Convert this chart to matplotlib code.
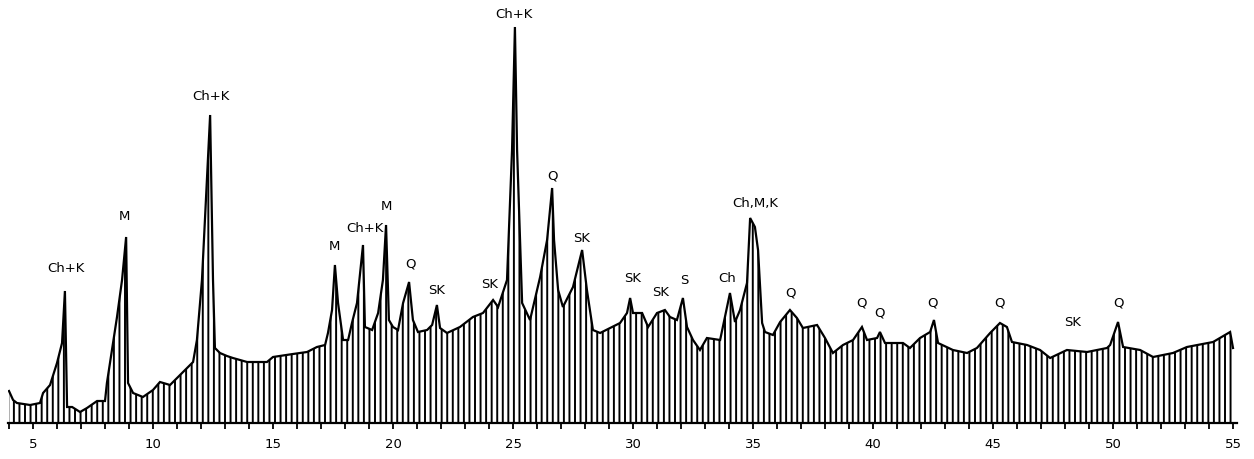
import matplotlib
matplotlib.use("Agg")
import matplotlib.pyplot as plt
from matplotlib.ticker import MultipleLocator
import numpy as np

plt.rcParams['font.family'] = ['DejaVu Sans']
plt.rcParams['hatch.linewidth'] = 1.4

# 2-theta (degrees) and intensity (arbitrary units)
two_theta = [4.00, 4.17, 4.33, 4.88, 5.29, 5.42, 5.71, 6.00, 6.21, 6.33, 6.42, 6.63, 6.96,
             7.25, 7.67, 8.00, 8.08, 8.50, 8.71, 8.88, 8.96, 9.17, 9.58, 10.00, 10.29,
             10.71, 11.13, 11.67, 11.83, 12.04, 12.38, 12.50, 12.58, 12.79, 13.08, 13.33,
             13.92, 14.75, 15.00, 15.83, 16.42, 16.83, 17.17, 17.29, 17.46, 17.58, 17.71,
             17.92, 18.13, 18.29, 18.50, 18.75, 18.83, 19.13, 19.38, 19.58, 19.71, 19.83,
             20.00, 20.21, 20.42, 20.67, 20.83, 21.04, 21.42, 21.63, 21.83, 21.96, 22.25,
             22.79, 23.33, 23.75, 24.17, 24.38, 24.75, 24.96, 25.08, 25.17, 25.38, 25.71,
             26.13, 26.42, 26.63, 26.71, 26.88, 27.08, 27.50, 27.88, 28.08, 28.33, 28.63,
             29.46, 29.75, 29.88, 30.00, 30.38, 30.63, 31.00, 31.33, 31.54, 31.83, 32.08,
             32.25, 32.50, 32.79, 33.08, 33.63, 33.83, 34.04, 34.25, 34.46, 34.75, 34.88,
             35.08, 35.21, 35.38, 35.50, 35.83, 36.13, 36.54, 36.83, 37.08, 37.67, 38.00,
             38.33, 38.75, 39.17, 39.54, 39.75, 40.17, 40.29, 40.50, 41.25, 41.54, 41.96,
             42.38, 42.54, 42.71, 43.33, 43.92, 44.33, 44.88, 45.29, 45.58, 45.79, 46.42,
             46.96, 47.38, 48.08, 48.92, 49.75, 49.88, 50.21, 50.42, 51.13, 51.67, 52.50,
             53.08, 54.17, 54.88, 55.00]
intensity = [32, 23, 20, 18, 20, 30, 38, 60, 80, 132, 16, 16, 11,
             15, 22, 22, 40, 106, 143, 186, 40, 30, 26, 33, 41,
             38, 48, 61, 83, 143, 308, 143, 75, 70, 67, 65,
             61, 61, 66, 69, 71, 76, 78, 90, 113, 158, 120,
             83, 83, 100, 120, 178, 96, 93, 110, 143, 198, 103,
             96, 93, 120, 141, 103, 91, 93, 98, 118, 95, 90,
             96, 106, 110, 123, 116, 143, 273, 396, 273, 120, 103,
             146, 183, 235, 183, 133, 116, 136, 173, 133, 93, 90,
             100, 110, 125, 110, 110, 96, 110, 113, 106, 103, 125,
             96, 83, 73, 85, 83, 106, 130, 101, 113, 140, 205,
             196, 173, 100, 91, 88, 101, 113, 105, 95, 98, 85,
             70, 78, 83, 96, 83, 85, 91, 80, 80, 75, 85,
             91, 103, 80, 73, 70, 75, 90, 100, 96, 81, 78,
             73, 65, 73, 71, 75, 78, 101, 76, 73, 66, 70,
             76, 81, 91, 75]

# peak labels: text, 2-theta position, height
label_text = ["Ch+K", "M", "Ch+K", "M", "Ch+K", "M", "Q", "SK", "SK", "Ch+K", "Q", "SK",
              "SK", "SK", "S", "Ch", "Ch,M,K", "Q", "Q", "Q", "Q", "Q", "SK", "Q"]
label_x = [6.38, 8.83, 12.42, 17.54, 18.83, 19.71, 20.71, 21.83, 24.04, 25.04, 26.63, 27.88,
           30.00, 31.17, 32.13, 33.92, 35.08, 36.58, 39.54, 40.29, 42.50, 45.29, 48.33, 50.25]
label_y = [154, 206, 326, 176, 195, 217, 159, 133, 138, 408, 247, 184,
           145, 130, 142, 145, 220, 130, 120, 110, 120, 120, 100, 120]

W, H = 1254, 459
fig = plt.figure(figsize=(W / 100, H / 100), dpi=100)
left_px, right_px, base_px = 8, 1237, 423
ax = fig.add_axes([left_px / W, (H - base_px) / H, (right_px - left_px) / W, base_px / H])

x0 = 5 + (left_px - 33) / 24.0
x1 = 5 + (right_px - 33) / 24.0
ax.set_xlim(x0, x1)
ax.set_ylim(0, base_px)

ax.fill_between(two_theta, 0, intensity, facecolor='white', edgecolor='black',
                hatch='|||', linewidth=0)
ax.plot(two_theta, intensity, color='black', linewidth=1.6, solid_joinstyle='miter')

for t, x, y in zip(label_text, label_x, label_y):
    ax.text(x, y, t, ha='center', va='center', fontsize=9.5, color='black')

for s in ['left', 'right', 'top']:
    ax.spines[s].set_visible(False)
ax.spines['bottom'].set_linewidth(1.6)
ax.set_yticks([])
ax.xaxis.set_major_locator(MultipleLocator(5))
ax.xaxis.set_minor_locator(MultipleLocator(1))
ax.tick_params(axis='x', which='both', direction='out', length=4, width=1.3, color='black')
ax.tick_params(axis='x', which='major', labelsize=9.5, pad=7)
ax.patch.set_alpha(0)

fig.savefig('out.png', dpi=100, facecolor='white')
